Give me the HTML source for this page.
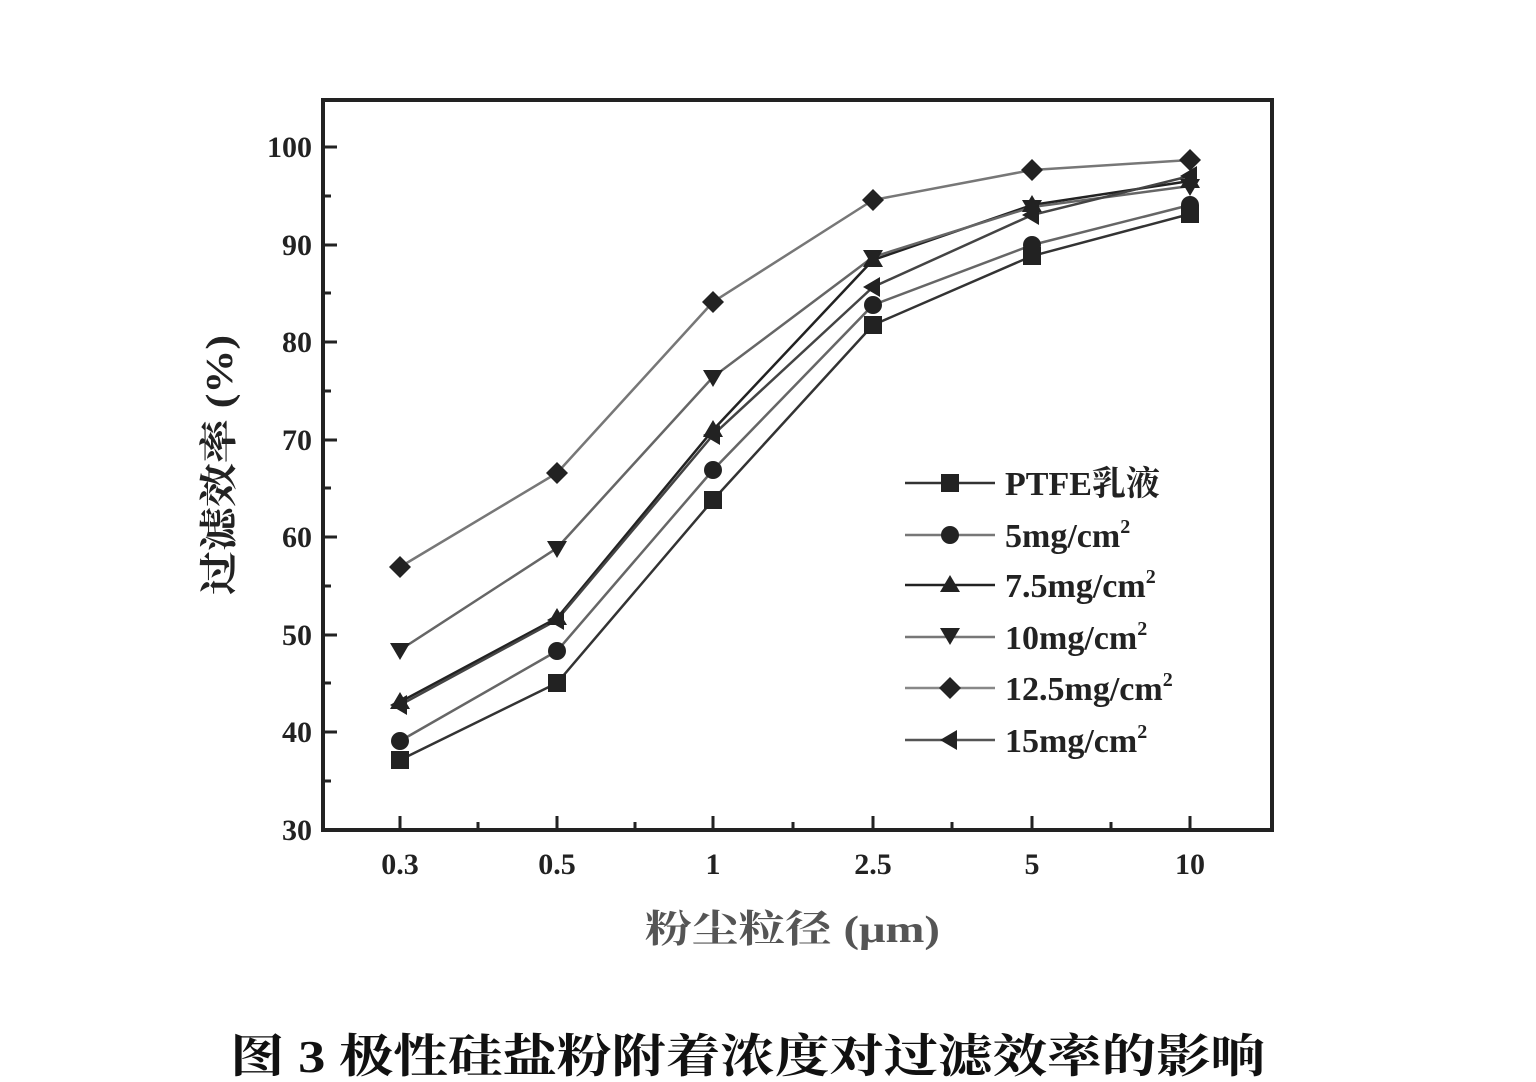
<!DOCTYPE html>
<html><head><meta charset="utf-8"><style>
html,body{margin:0;padding:0;background:#fff;}
svg{display:block;}
text{font-family:"Liberation Serif","Noto Serif CJK SC",serif;font-weight:bold;fill:#222;}
</style></head><body>
<svg width="1536" height="1082" viewBox="0 0 1536 1082" xmlns="http://www.w3.org/2000/svg">
<rect x="0" y="0" width="1536" height="1082" fill="#fff"/>
<rect x="323" y="100" width="949" height="730" fill="none" stroke="#222" stroke-width="4"/>
<g stroke="#222" stroke-width="3">
<line x1="323" y1="147" x2="337" y2="147"/><line x1="323" y1="245" x2="337" y2="245"/>
<line x1="323" y1="342" x2="337" y2="342"/><line x1="323" y1="440" x2="337" y2="440"/>
<line x1="323" y1="537" x2="337" y2="537"/><line x1="323" y1="635" x2="337" y2="635"/>
<line x1="323" y1="732" x2="337" y2="732"/>
<line x1="323" y1="196" x2="331" y2="196"/><line x1="323" y1="293" x2="331" y2="293"/>
<line x1="323" y1="391" x2="331" y2="391"/><line x1="323" y1="488" x2="331" y2="488"/>
<line x1="323" y1="586" x2="331" y2="586"/><line x1="323" y1="683" x2="331" y2="683"/>
<line x1="323" y1="781" x2="331" y2="781"/>
<line x1="400" y1="830" x2="400" y2="816"/><line x1="557" y1="830" x2="557" y2="816"/>
<line x1="713" y1="830" x2="713" y2="816"/><line x1="873" y1="830" x2="873" y2="816"/>
<line x1="1032" y1="830" x2="1032" y2="816"/><line x1="1190" y1="830" x2="1190" y2="816"/>
<line x1="478" y1="830" x2="478" y2="822"/><line x1="635" y1="830" x2="635" y2="822"/>
<line x1="793" y1="830" x2="793" y2="822"/><line x1="952" y1="830" x2="952" y2="822"/>
<line x1="1111" y1="830" x2="1111" y2="822"/>
</g>
<g font-size="30" text-anchor="end">
<text x="312" y="157">100</text><text x="312" y="255">90</text><text x="312" y="352">80</text>
<text x="312" y="450">70</text><text x="312" y="547">60</text><text x="312" y="645">50</text>
<text x="312" y="742">40</text><text x="312" y="840">30</text>
</g>
<g font-size="30" text-anchor="middle">
<text x="400" y="874">0.3</text><text x="557" y="874">0.5</text><text x="713" y="874">1</text>
<text x="873" y="874">2.5</text><text x="1032" y="874">5</text><text x="1190" y="874">10</text>
</g>
<text x="645" y="942" font-size="38" textLength="295" lengthAdjust="spacingAndGlyphs" style="fill:#555">粉尘粒径 (μm)</text>
<text transform="translate(232,595) rotate(-90)" font-size="38" textLength="260" lengthAdjust="spacingAndGlyphs">过滤效率 (%)</text>
<text x="230" y="1072" font-size="46" textLength="1035" lengthAdjust="spacingAndGlyphs" style="fill:#111">图 3 极性硅盐粉附着浓度对过滤效率的影响</text>
<g fill="none" stroke-width="2.5">
<polyline stroke="#333" points="400,760 557,683 713,500 873,325 1032,256 1190,214"/>
<polyline stroke="#666" points="400,741 557,651 713,470 873,305 1032,245 1190,205"/>
<polyline stroke="#222" points="400,702 557,618 713,430 873,260 1032,205 1190,181"/>
<polyline stroke="#666" points="400,650 557,548 713,377 873,257 1032,207 1190,186"/>
<polyline stroke="#777" points="400,567 557,473 713,302 873,200 1032,170 1190,160"/>
<polyline stroke="#444" points="400,705 557,620 713,435 873,287 1032,215 1190,176"/>
</g>
<g fill="#222">
<rect x="391" y="751" width="18" height="18"/><rect x="548" y="674" width="18" height="18"/><rect x="704" y="491" width="18" height="18"/><rect x="864" y="316" width="18" height="18"/><rect x="1023" y="247" width="18" height="18"/><rect x="1181" y="205" width="18" height="18"/>
<circle cx="400" cy="741" r="9"/><circle cx="557" cy="651" r="9"/><circle cx="713" cy="470" r="9"/><circle cx="873" cy="305" r="9"/><circle cx="1032" cy="245" r="9"/><circle cx="1190" cy="205" r="9"/>
<path d="M400,692l10,17h-20zM557,608l10,17h-20zM713,420l10,17h-20zM873,250l10,17h-20zM1032,195l10,17h-20zM1190,171l10,17h-20z"/>
<path d="M400,660l10,-17h-20zM557,558l10,-17h-20zM713,387l10,-17h-20zM873,267l10,-17h-20zM1032,217l10,-17h-20zM1190,196l10,-17h-20z"/>
<path d="M400,556l11,11l-11,11l-11,-11zM557,462l11,11l-11,11l-11,-11zM713,291l11,11l-11,11l-11,-11zM873,189l11,11l-11,11l-11,-11zM1032,159l11,11l-11,11l-11,-11zM1190,149l11,11l-11,11l-11,-11z"/>
<path d="M390,705l17,-10v20zM547,620l17,-10v20zM703,435l17,-10v20zM863,287l17,-10v20zM1022,215l17,-10v20zM1180,176l17,-10v20z"/>
</g>
<g stroke-width="2.5">
<line x1="905" y1="483" x2="995" y2="483" stroke="#333"/><rect x="941" y="474" width="18" height="18" fill="#222"/>
<line x1="905" y1="535" x2="995" y2="535" stroke="#777"/><circle cx="950" cy="535" r="9" fill="#222"/>
<line x1="905" y1="585" x2="995" y2="585" stroke="#222"/><path d="M950,575l10,17h-20z" fill="#222"/>
<line x1="905" y1="637" x2="995" y2="637" stroke="#777"/><path d="M950,645l10,-17h-20z" fill="#222"/>
<line x1="905" y1="688" x2="995" y2="688" stroke="#888"/><path d="M950,677l11,11l-11,11l-11,-11z" fill="#222"/>
<line x1="905" y1="740" x2="995" y2="740" stroke="#555"/><path d="M940,740l17,-10v20z" fill="#222"/>
</g>
<g font-size="34">
<text x="1005" y="495">PTFE乳液</text>
<text x="1005" y="547">5mg/cm<tspan font-size="20" dy="-14">2</tspan></text>
<text x="1005" y="597">7.5mg/cm<tspan font-size="20" dy="-14">2</tspan></text>
<text x="1005" y="649">10mg/cm<tspan font-size="20" dy="-14">2</tspan></text>
<text x="1005" y="700">12.5mg/cm<tspan font-size="20" dy="-14">2</tspan></text>
<text x="1005" y="752">15mg/cm<tspan font-size="20" dy="-14">2</tspan></text>
</g>
</svg>
</body></html>
